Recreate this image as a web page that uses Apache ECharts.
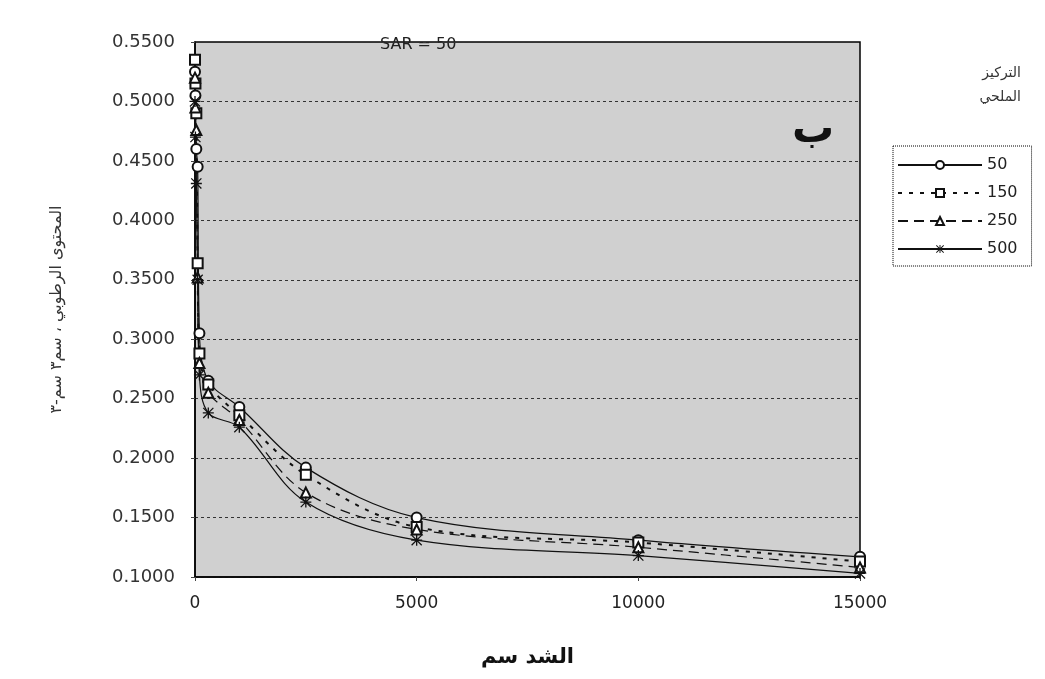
<!DOCTYPE html>
<html lang="ar">
<head>
    <meta charset="UTF-8">
    <title>SAR = 50</title>
    <script src="https://cdn.jsdelivr.net/npm/echarts@6/dist/echarts.min.js"></script>
    <style type="text/css">
        *{margin: 0;padding: 0;border: none}
        html,body{width: 100%;height: 100%;overflow: hidden;background: #fff}
        #main{width: 1045px;height: 679px}
    </style>
</head>
<body>
<div id="main"></div>
<script type="text/javascript">
    // الشد (سم)
    var tension = [0, 10, 30, 60, 100, 300, 1000, 2500, 5000, 10000, 15000];
    // المحتوى الرطوبي لكل تركيز ملحي
    var salt50  = [0.525, 0.505, 0.460, 0.445, 0.305, 0.265, 0.243, 0.192, 0.150, 0.131, 0.117];
    var salt150 = [0.535, 0.515, 0.490, 0.364, 0.288, 0.262, 0.236, 0.186, 0.142, 0.129, 0.113];
    var salt250 = [0.520, 0.495, 0.476, 0.352, 0.280, 0.255, 0.232, 0.171, 0.140, 0.125, 0.108];
    var salt500 = [0.500, 0.470, 0.431, 0.350, 0.270, 0.238, 0.226, 0.163, 0.131, 0.118, 0.103];
    var seriesNames = ['50', '150', '250', '500'];

    function pairs(ys) {
        var out = [];
        for (var i = 0; i < tension.length; i++) out.push([tension[i], ys[i]]);
        return out;
    }

    // نجمة (ж) كما في إكسل
    var starPath = 'path://M4.4,0h1.2v10h-1.2z M0.8,0L10,9.2L9.2,10L0,0.8z M9.2,0L10,0.8L0.8,10L0,9.2z M0,4.4h10v1.2h-10z';

    var myChart = echarts.init(document.getElementById('main'));
    var option = {
        animation: false,
        textStyle: {fontFamily: 'DejaVu Sans'},
        grid: {
            left: 195,
            right: 185,
            top: 42,
            bottom: 102,
            show: true,
            backgroundColor: '#d0d0d0',
            borderColor: '#000',
            borderWidth: 1.5
        },
        legend: {
            orient: 'vertical',
            left: 893,
            top: 146,
            padding: [11, 14, 9, 4],
            itemGap: 12,
            itemWidth: 84,
            itemHeight: 10,
            borderColor: '#000',
            borderWidth: 1,
            borderType: 'dotted',
            textStyle: {fontSize: 16, color: '#222', fontFamily: 'DejaVu Sans'},
            data: seriesNames
        },
        graphic: [
            {type: 'text', left: 380, top: 37, style: {text: 'SAR = 50', fontSize: 16, fill: '#222', fontFamily: 'DejaVu Sans'}},
            {type: 'text', left: 792, top: 110, style: {text: 'ب', fontSize: 42, fontWeight: 'bold', fill: '#111', fontFamily: 'DejaVu Sans'}},
            {type: 'text', right: 24, top: 66, style: {text: 'التركيز', fontSize: 14, fill: '#333', fontFamily: 'DejaVu Sans'}},
            {type: 'text', right: 24, top: 90, style: {text: 'الملحي', fontSize: 14, fill: '#333', fontFamily: 'DejaVu Sans'}}
        ],
        xAxis: {
            type: 'value',
            min: 0,
            max: 15000,
            interval: 5000,
            name: 'الشد سم',
            nameLocation: 'middle',
            nameGap: 70,
            nameTextStyle: {fontSize: 21, fontWeight: 'bold', color: '#111', fontFamily: 'DejaVu Sans'},
            axisLine: {lineStyle: {color: '#000', width: 1.5}},
            axisTick: {show: true, length: 4, lineStyle: {color: '#444'}},
            axisLabel: {
                fontSize: 17,
                color: '#222',
                margin: 18,
                formatter: function (v) { return String(v); }
            },
            splitLine: {show: false}
        },
        yAxis: {
            type: 'value',
            min: 0.1,
            max: 0.55,
            interval: 0.05,
            name: 'المحتوى الرطوبي ، سم٣ سم-٣',
            nameLocation: 'middle',
            nameGap: 130,
            nameTextStyle: {fontSize: 16, color: '#333', fontFamily: 'DejaVu Sans'},
            axisLine: {show: true, lineStyle: {color: '#000', width: 1.5}},
            axisTick: {show: true, length: 4, lineStyle: {color: '#444'}},
            axisLabel: {
                fontSize: 18,
                color: '#333',
                margin: 20,
                formatter: function (v) { return v.toFixed(4); }
            },
            splitLine: {show: true, lineStyle: {color: '#333', type: [3, 3], width: 1}}
        },
        series: [
            {
                name: '50',
                type: 'line',
                smooth: 0.35,
                data: pairs(salt50),
                symbol: 'emptyCircle',
                symbolSize: 10,
                lineStyle: {color: '#111', width: 1.2},
                itemStyle: {color: '#111', borderWidth: 1.2}
            },
            {
                name: '150',
                type: 'line',
                smooth: 0.35,
                data: pairs(salt150),
                symbol: 'emptyRect',
                symbolSize: 10,
                lineStyle: {color: '#111', width: 2, type: [4, 7]},
                itemStyle: {color: '#111', borderWidth: 1.2}
            },
            {
                name: '250',
                type: 'line',
                smooth: 0.35,
                data: pairs(salt250),
                symbol: 'emptyTriangle',
                symbolSize: 10,
                lineStyle: {color: '#111', width: 1.2, type: [10, 6]},
                itemStyle: {color: '#111', borderWidth: 1.2}
            },
            {
                name: '500',
                type: 'line',
                smooth: 0.35,
                data: pairs(salt500),
                symbol: starPath,
                symbolSize: 11,
                lineStyle: {color: '#111', width: 1.2},
                itemStyle: {color: '#111'}
            }
        ]
    };
    myChart.setOption(option);
</script>
</body>
</html>
